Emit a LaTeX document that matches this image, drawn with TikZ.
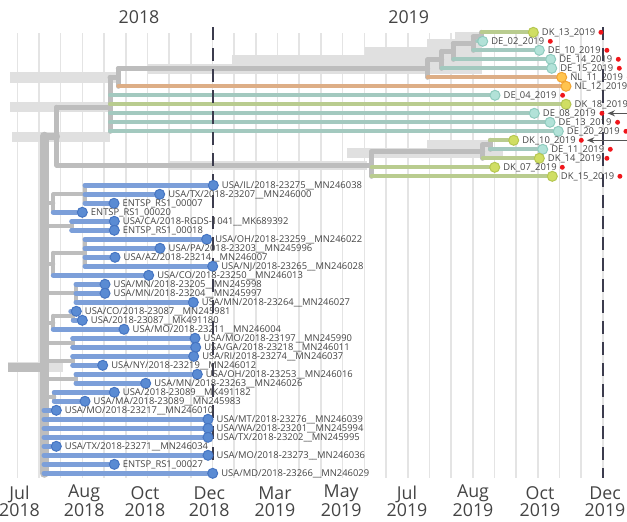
\documentclass[tikz,border=0pt]{standalone}
\usepackage{fontspec}
\setmainfont{Open Sans}
\usetikzlibrary{arrows.meta}
\definecolor{gridc}{HTML}{E4E4E4}
\definecolor{barc}{HTML}{E0E0E0}
\definecolor{grayb}{HTML}{BDBDBD}
\definecolor{tealL}{HTML}{A3C9BF}
\definecolor{tealF}{HTML}{B2E2D8}
\definecolor{tealD}{HTML}{8FCBBE}
\definecolor{grnL}{HTML}{B9CC8F}
\definecolor{grnF}{HTML}{D0DE63}
\definecolor{grnD}{HTML}{B5C752}
\definecolor{orgL}{HTML}{DDAE86}
\definecolor{orgF}{HTML}{FFC44F}
\definecolor{orgD}{HTML}{F2A431}
\definecolor{bluL}{HTML}{7C9FD9}
\definecolor{bluF}{HTML}{5A8BD3}
\definecolor{bluD}{HTML}{4675C2}
\definecolor{redd}{HTML}{F0161B}
\definecolor{dashc}{HTML}{3C3C4E}
\definecolor{txt}{HTML}{444444}
\definecolor{arrc}{HTML}{555555}
\pgfdeclarelayer{gridl}
\pgfdeclarelayer{barl}
\pgfdeclarelayer{brl}
\pgfdeclarelayer{dashl}
\pgfsetlayers{gridl,barl,brl,dashl,main}
\newcommand{\tip}[5]{%
  \node[#4] (#1) at (#2,#3) {};
  \node[lbl] (#1L) at ({#2+8.4},{#3+3.4}) {#5};}
\newcommand{\rdot}[3]{\node[rdotst] (#1R) at ({#2+67.6},#3) {};}
\begin{document}
\begin{tikzpicture}[x=0.75pt,y=-0.75pt,
  tipT/.style={circle,inner sep=0,minimum size=7.5pt,fill=tealF,draw=tealD,line width=0.75pt},
  tipG/.style={circle,inner sep=0,minimum size=7.5pt,fill=grnF,draw=grnD,line width=0.75pt},
  tipO/.style={circle,inner sep=0,minimum size=7.5pt,fill=orgF,draw=orgD,line width=0.75pt},
  tipB/.style={circle,inner sep=0,minimum size=7.5pt,fill=bluF,draw=bluD,line width=0.75pt},
  lbl/.style={anchor=base west,inner sep=0,text=txt,font=\fontsize{7.05}{8}\selectfont},
  axl/.style={anchor=base,align=center,inner sep=0,text=txt,font=\fontsize{13.35}{12.75}\selectfont},
  rdotst/.style={circle,inner sep=0,minimum size=3.7pt,fill=redd},
  gbr/.style={draw=grayb,line width=3.75pt,line cap=round},
  ubr/.style={draw=grayb,line width=3pt,line cap=round},
  trunk/.style={draw=grayb,line width=6.75pt,line cap=round},
  tbr/.style={draw=tealL,line width=3pt,line cap=round},
  gnb/.style={draw=grnL,line width=3pt,line cap=round},
  obr/.style={draw=orgL,line width=3pt,line cap=round},
  bbr/.style={draw=bluL,line width=3.75pt,line cap=round},
  arrst/.style={draw=arrc,line width=1.1pt,-{Stealth[length=5.5pt,width=4.5pt]}},
  dashst/.style={draw=dashc,line width=1.5pt,dash pattern=on 9.75pt off 6pt}]
\useasboundingbox (0,0) rectangle (627,521);
\clip (0,0) rectangle (627,521);
% grid
\begin{pgfonlayer}{gridl}
\foreach \k in {0,...,27} \draw[gridc,line width=1.2pt] ({17.3+21.69*\k},33) -- ({17.3+21.69*\k},478);
\end{pgfonlayer}
% year headings
\node[axl] (y18) at (139,23.3) {2018};
\node[axl] (y19) at (408.7,23.3) {2019};
% axis labels (base = baseline of last line)
\node[axl] (t1) at (19.5,516) {Jul\\2018};
\node[axl] (t2) at (84.2,516) {Aug\\2018};
\node[axl] (t3) at (145,516) {Oct\\2018};
\node[axl] (t4) at (209.3,516) {Dec\\2018};
\node[axl] (t5) at (275,516) {Mar\\2019};
\node[axl] (t6) at (341.2,516) {May\\2019};
\node[axl] (t7) at (407,516) {Jul\\2019};
\node[axl] (t8) at (473,516) {Aug\\2019};
\node[axl] (t9) at (540,516) {Oct\\2019};
\node[axl] (t10) at (605,516) {Dec\\2019};
% dashed lines
\begin{pgfonlayer}{dashl}
\draw[dashst] (213,27) -- (213,478);
\draw[dashst] (603,27) -- (603,478);
\end{pgfonlayer}
% internal nodes
\coordinate (e1) at (481.7,36.8);
\coordinate (e2) at (473.3,43.55);
\coordinate (e3) at (453.3,51.43);
\coordinate (e4) at (441.7,59.86);
\coordinate (e5) at (427.7,68.58);
\coordinate (e6) at (118.3,77.44);
\coordinate (e7) at (110,107.32);
\coordinate (f1) at (490,144.8);
\coordinate (f2) at (482.7,151.55);
\coordinate (f3) at (371.7,165.05);
\coordinate (e8) at (56.7,136.19);
\coordinate (root) at (44,367);
\coordinate (stem) at (8.3,367);
\coordinate (nA) at (85,194.3);
\coordinate (nB) at (53.3,203.3);
\coordinate (nC) at (71.7,225.8);
\coordinate (nD) at (85,252.8);
\coordinate (nE) at (53.3,264.05);
\coordinate (nF) at (76,293.3);
\coordinate (nG) at (73.3,315.8);
\coordinate (nH) at (53.3,322.55);
\coordinate (nI) at (72.7,342.8);
\coordinate (nJ) at (72.7,360.8);
\coordinate (nK) at (76,378.8);
\coordinate (nL) at (54.3,396.8);
% Europe tips
\tip{DK13}{533.3}{32.3}{tipG}{DK\_13\_2019}
\tip{DE02}{482.7}{41.3}{tipT}{DE\_02\_2019}
\tip{DE10}{539.3}{50.3}{tipT}{DE\_10\_2019}
\tip{DE14}{550.7}{59.3}{tipT}{DE\_14\_2019}
\tip{DE15}{551.7}{68.3}{tipT}{DE\_15\_2019}
\tip{NL11}{561.7}{77.3}{tipO}{NL\_11\_2019}
\tip{NL12}{566}{86.3}{tipO}{NL\_12\_2019}
\tip{DE04}{495}{95.3}{tipT}{DE\_04\_2019}
\tip{DK18}{566}{104.3}{tipG}{DK\_18\_2019}
\tip{DE08}{534.3}{113.3}{tipT}{DE\_08\_2019}
\tip{DE13}{550}{122.3}{tipT}{DE\_13\_2019}
\tip{DE20}{558.3}{131.3}{tipT}{DE\_20\_2019}
\tip{DK10}{513.7}{140.3}{tipG}{DK\_10\_2019}
\tip{DE11}{542.7}{149.3}{tipT}{DE\_11\_2019}
\tip{DK14}{539.3}{158.3}{tipG}{DK\_14\_2019}
\tip{DK07}{494.7}{167.3}{tipG}{DK\_07\_2019}
\tip{DK15}{552.3}{176.3}{tipG}{DK\_15\_2019}
\rdot{DK13}{533.3}{32.3}
\rdot{DE02}{482.7}{41.3}
\rdot{DE10}{539.3}{50.3}
\rdot{DE14}{550.7}{59.3}
\rdot{DE15}{551.7}{68.3}
\rdot{NL11}{561.7}{77.3}
\rdot{DE04}{495}{95.3}
\rdot{DE08}{534.3}{113.3}
\rdot{DE13}{550}{122.3}
\rdot{DE20}{558.3}{131.3}
\rdot{DK10}{513.7}{140.3}
\rdot{DE11}{542.7}{149.3}
\rdot{DK14}{539.3}{158.3}
\rdot{DK07}{494.7}{167.3}
\rdot{DK15}{552.3}{176.3}
\coordinate (a1) at (632,113.3);
\coordinate (a2) at (632,140.3);
\draw[arrst] (a1) -- ([xshift=2.2pt]DE08R.east);
\draw[arrst] (a2) -- ([xshift=2.2pt]DK10R.east);
% USA tips
\tip{IL}{213.3}{185.3}{tipB}{USA/IL/2018-23275\_\_MN246038}
\tip{TXa}{159.7}{194.3}{tipB}{USA/TX/2018-23207\_\_MN246000}
\tip{Sa}{114}{203.3}{tipB}{ENTSP\_RS1\_00007}
\tip{Sb}{82.3}{212.3}{tipB}{ENTSP\_RS1\_00020}
\tip{CA}{114.3}{221.3}{tipB}{USA/CA/2018-RGDS-1041\_\_MK689392}
\tip{Sc}{114.3}{230.3}{tipB}{ENTSP\_RS1\_00018}
\tip{OHa}{206.7}{239.3}{tipB}{USA/OH/2018-23259\_\_MN246022}
\tip{PA}{160}{248.3}{tipB}{USA/PA/2018-23203\_\_MN245996}
\tip{AZ}{115}{257.3}{tipB}{USA/AZ/2018-23214\_\_MN246007}
\tip{NJ}{212.7}{266.3}{tipB}{USA/NJ/2018-23265\_\_MN246028}
\tip{COa}{148.7}{275.3}{tipB}{USA/CO/2018-23250\_\_MN246013}
\tip{MNa}{105}{284.3}{tipB}{USA/MN/2018-23205\_\_MN245998}
\tip{MNb}{105}{293.3}{tipB}{USA/MN/2018-23204\_\_MN245997}
\tip{MNc}{193.3}{302.3}{tipB}{USA/MN/2018-23264\_\_MN246027}
\tip{COb}{76.3}{311.3}{tipB}{USA/CO/2018-23087\_\_MN245981}
\tip{Ua}{82.3}{320.3}{tipB}{USA/2018-23087\_\_MK491180}
\tip{MOa}{124}{329.3}{tipB}{USA/MO/2018-23211\_\_MN246004}
\tip{MOb}{195}{338.3}{tipB}{USA/MO/2018-23197\_\_MN245990}
\tip{GA}{195.7}{347.3}{tipB}{USA/GA/2018-23218\_\_MN246011}
\tip{RI}{193.7}{356.3}{tipB}{USA/RI/2018-23274\_\_MN246037}
\tip{NY}{102.7}{365.3}{tipB}{USA/NY/2018-23219\_\_MN246012}
\tip{OHb}{197.3}{374.3}{tipB}{USA/OH/2018-23253\_\_MN246016}
\tip{MNd}{145.7}{383.3}{tipB}{USA/MN/2018-23263\_\_MN246026}
\tip{Ub}{114.3}{392.3}{tipB}{USA/2018-23089\_\_MK491182}
\tip{MA}{85}{401.3}{tipB}{USA/MA/2018-23089\_\_MN245983}
\tip{MOc}{56.3}{410.3}{tipB}{USA/MO/2018-23217\_\_MN246010}
\tip{MT}{208}{419.3}{tipB}{USA/MT/2018-23276\_\_MN246039}
\tip{WA}{208}{428.3}{tipB}{USA/WA/2018-23201\_\_MN245994}
\tip{TXb}{208}{437.3}{tipB}{USA/TX/2018-23202\_\_MN245995}
\tip{TXc}{56.3}{446.3}{tipB}{USA/TX/2018-23271\_\_MN246034}
\tip{MOd}{208}{455.3}{tipB}{USA/MO/2018-23273\_\_MN246036}
\tip{Sd}{114.3}{464.3}{tipB}{ENTSP\_RS1\_00027}
\tip{MD}{212.7}{473.3}{tipB}{USA/MD/2018-23266\_\_MN246029}
% confidence bars
\begin{pgfonlayer}{barl}
\fill[barc] (455,32) rectangle (482,41.5);
\fill[barc] (427,38.5) rectangle (482,48.5);
\fill[barc] (365,46.5) rectangle (482,56.5);
\fill[barc] (232,55) rectangle (482,65);
\fill[barc] (148,63.8) rectangle (482,73.5);
\fill[barc] (10,72) rectangle (120,83);
\fill[barc] (10,102) rectangle (110,112);
\fill[barc] (12,131.5) rectangle (110,141.5);
\fill[barc] (427,140.3) rectangle (488,149.5);
\fill[barc] (347,147.5) rectangle (503,157.5);
\fill[barc] (168,160.5) rectangle (367,170);
\fill[barc] (8,362) rectangle (63,372);
\end{pgfonlayer}
% branches
\begin{pgfonlayer}{brl}
\draw[trunk,line cap=butt] (stem) -- (root);
\draw[trunk] (root |- e8) -- (root |- MD);
\draw[draw=grayb,line width=5pt,line cap=round] (root |- e8) -- (e8);
\draw[gbr] (e8 |- e7) -- (e8 |- f3);
\draw[gbr] (e8 |- f3) -- (f3);
\draw[gbr] (e8 |- e7) -- (e7);
\draw[gbr] (e7 |- e6) -- (e7 |- DE20);
\draw[gbr] (e7 |- e6) -- (e6);
\draw[gbr] (e6 |- e5) -- (e6 |- NL12);
\draw[gbr] (e6 |- e5) -- (e5);
\draw[gbr] (e5 |- e4) -- (e5 |- NL11);
\draw[gbr] (e5 |- e4) -- (e4);
\draw[gbr] (e4 |- e3) -- (e4 |- DE15);
\draw[gbr] (e4 |- e3) -- (e3);
\draw[gbr] (e3 |- e2) -- (e3 |- DE14);
\draw[gbr] (e3 |- e2) -- (e2);
\draw[gbr] (e2 |- e1) -- (e2 |- DE10);
\draw[gbr] (e2 |- e1) -- (e1);
\draw[gbr] (e1 |- DK13) -- (e1 |- DE02);
\draw[gbr] (f3 |- f2) -- (f3 |- DK15);
\draw[gbr] (f3 |- f2) -- (f2);
\draw[gbr] (f2 |- f1) -- (f2 |- DK14);
\draw[gbr] (f2 |- f1) -- (f1);
\draw[gbr] (f1 |- DK10) -- (f1 |- DE11);
% USA internal
\draw[ubr] (root |- nB) -- (nB);
\draw[ubr] (nB |- nA) -- (nB |- Sb);
\draw[ubr] (nB |- nA) -- (nA);
\draw[ubr] (nA |- IL) -- (nA |- Sa);
\draw[ubr] (root |- nC) -- (nC);
\draw[ubr] (nC |- CA) -- (nC |- Sc);
\draw[ubr] (root |- nE) -- (nE);
\draw[ubr] (nE |- nD) -- (nE |- COa);
\draw[ubr] (nE |- nD) -- (nD);
\draw[ubr] (nD |- OHa) -- (nD |- NJ);
\draw[ubr] (root |- nF) -- (nF);
\draw[ubr] (nF |- MNa) -- (nF |- MNc);
\draw[ubr] (root |- nH) -- (nH);
\draw[ubr] (nH |- nG) -- (nH |- MOa);
\draw[ubr] (nH |- nG) -- (nG);
\draw[ubr] (nG |- COb) -- (nG |- Ua);
\draw[ubr] (root |- nI) -- (nI);
\draw[ubr] (nI |- MOb) -- (nI |- GA);
\draw[ubr] (root |- nJ) -- (nJ);
\draw[ubr] (nJ |- RI) -- (nJ |- NY);
\draw[ubr] (root |- nK) -- (nK);
\draw[ubr] (nK |- OHb) -- (nK |- MNd);
\draw[ubr] (root |- nL) -- (nL);
\draw[ubr] (nL |- Ub) -- (nL |- MA);
% Europe tip branches
\draw[gnb] (e1 |- DK13) -- (DK13);
\draw[tbr] (e1 |- DE02) -- (DE02);
\draw[tbr] (e2 |- DE10) -- (DE10);
\draw[tbr] (e3 |- DE14) -- (DE14);
\draw[tbr] (e4 |- DE15) -- (DE15);
\draw[obr] (e5 |- NL11) -- (NL11);
\draw[obr] (e6 |- NL12) -- (NL12);
\draw[tbr] (e7 |- DE04) -- (DE04);
\draw[gnb] (e7 |- DK18) -- (DK18);
\draw[tbr] (e7 |- DE08) -- (DE08);
\draw[tbr] (e7 |- DE13) -- (DE13);
\draw[tbr] (e7 |- DE20) -- (DE20);
\draw[gnb] (f1 |- DK10) -- (DK10);
\draw[tbr] (f1 |- DE11) -- (DE11);
\draw[gnb] (f2 |- DK14) -- (DK14);
\draw[gnb] (f3 |- DK07) -- (DK07);
\draw[gnb] (f3 |- DK15) -- (DK15);
% USA tip branches
\foreach \p/\c in {nA/IL,nA/TXa,nA/Sa,nB/Sb,nC/CA,nC/Sc,nD/OHa,nD/PA,nD/AZ,nD/NJ,nE/COa,nF/MNa,nF/MNb,nF/MNc,nG/COb,nG/Ua,nH/MOa,nI/MOb,nI/GA,nJ/RI,nJ/NY,nK/OHb,nK/MNd,nL/Ub,nL/MA,root/MOc,root/MT,root/WA,root/TXb,root/TXc,root/MOd,root/Sd,root/MD}
  \draw[bbr] (\p |- \c) -- (\c);
\end{pgfonlayer}
\end{tikzpicture}
\end{document}
